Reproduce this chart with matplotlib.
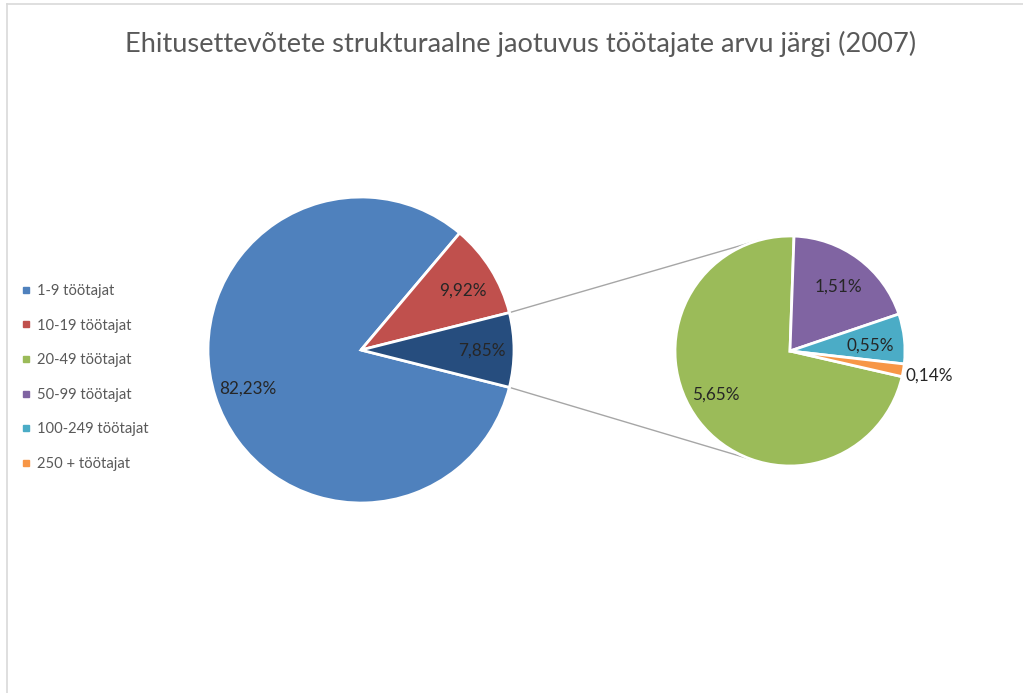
import numpy as np
import matplotlib
matplotlib.use("Agg")
import matplotlib.pyplot as plt
from matplotlib.lines import Line2D

# ---- data ----
title = "Ehitusettevõtete strukturaalne jaotuvus töötajate arvu järgi (2007)"
categories = ["1-9 töötajat", "10-19 töötajat", "20-49 töötajat",
              "50-99 töötajat", "100-249 töötajat", "250 + töötajat"]
values = [82.23, 9.92, 5.65, 1.51, 0.55, 0.14]
colors = ["#4F81BD", "#C0504D", "#9BBB59", "#8064A2", "#4BACC6", "#F79646"]
other_color = "#264D7E"

main_vals = values[:2] + [round(sum(values[2:]), 2)]
main_cols = colors[:2] + [other_color]
sub_vals = values[2:]
sub_cols = colors[2:]

def fmt(v):
    return f"{v:.2f}%".replace(".", ",")

W, H = 1023, 693
fig = plt.figure(figsize=(W / 100, H / 100), dpi=100)
ax = fig.add_axes([0, 0, 1, 1])
FONT = "Lato"

# geometry (pixel-based, y up)
c1 = (361, H - 350); r1 = 153
c2 = (790, H - 351); r2 = 115

other_span = main_vals[2] / sum(main_vals) * 360
w1, _ = ax.pie(main_vals, colors=main_cols, center=c1, radius=r1,
               startangle=-other_span / 2, counterclock=False,
               wedgeprops=dict(edgecolor="white", linewidth=2))
w2, _ = ax.pie(sub_vals, colors=sub_cols, center=c2, radius=r2,
               startangle=-12.9, counterclock=False,
               wedgeprops=dict(edgecolor="white", linewidth=2))
for w in list(w1) + list(w2):
    w.set_zorder(3)

ax.set_xlim(0, W)
ax.set_ylim(0, H)
ax.set_aspect("equal")
ax.axis("off")

# labels
def place(wedges, vals, center, radius, fracs, dang, txtcol="#262626", overrides=None):
    for i, (w, v) in enumerate(zip(wedges, vals)):
        mid = np.deg2rad((w.theta1 + w.theta2) / 2 + dang[i])
        f = fracs[i]
        x = center[0] + f * radius * np.cos(mid)
        y = center[1] + f * radius * np.sin(mid)
        ha = "center"
        if overrides and i in overrides:
            x, y, ha = overrides[i](center, radius, mid)
        ax.text(x, y, fmt(v), ha=ha, va="center", fontsize=12.3,
                color=txtcol, family=FONT, zorder=5)

place(w1, main_vals, c1, r1, [0.78, 0.77, 0.79], [1, -2, -0.5])
place(w2, sub_vals, c2, r2, [0.75, 0.70, 0.70, 1.0], [-7, 0, -2, 0],
      overrides={3: lambda c, r, m: (c[0] + r * np.cos(m) + 2,
                                     c[1] + r * np.sin(m) - 5, "left")})

# connector lines (tangents from the "other" wedge edges to second pie)
half = np.deg2rad(other_span / 2)
for sgn in (1, -1):
    px = c1[0] + r1 * np.cos(half)
    py = c1[1] + sgn * r1 * np.sin(half)
    dx, dy = px - c2[0], py - c2[1]
    d = np.hypot(dx, dy)
    base = np.arctan2(dy, dx)
    off = np.arccos(r2 / d)
    ang = base - sgn * off
    tx = c2[0] + r2 * np.cos(ang)
    ty = c2[1] + r2 * np.sin(ang)
    ax.add_line(Line2D([px, tx], [py, ty], color="#A6A6A6", lw=1, zorder=2))

# title
ax.text(521, H - 44, title, ha="center", va="center", fontsize=19.6,
        color="#595959", family=FONT)

# legend
handles = [Line2D([], [], marker="s", markersize=5, linestyle="none",
                  color=c) for c in colors]
leg = ax.legend(handles, categories, loc="upper left",
                bbox_to_anchor=(22 / W, 1 - 284 / H), frameon=False,
                prop=dict(family=FONT, size=10.6), labelcolor="#595959",
                handlelength=0.6, handletextpad=0.4, labelspacing=1.40,
                borderpad=0, borderaxespad=0)

# outer border (top + left visible)
ax.add_line(Line2D([7, W], [H - 4, H - 4], color="#D9D9D9", lw=1.2))
ax.add_line(Line2D([7, 7], [0, H - 4], color="#D9D9D9", lw=1.2))

fig.savefig("out.png", dpi=100, facecolor="white")
